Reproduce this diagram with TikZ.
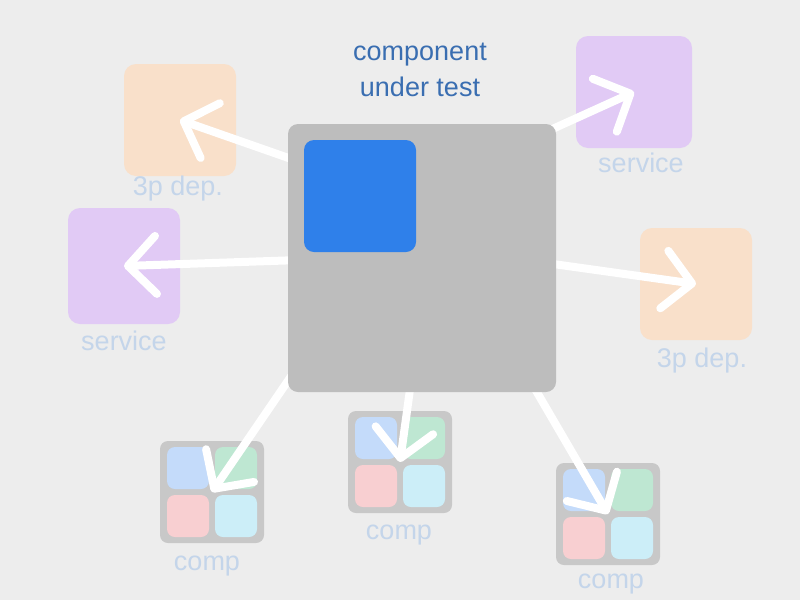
\documentclass[tikz,border=0pt]{standalone}
\usepackage{fontspec}
\setmainfont{Liberation Sans}
\usepackage{tikz}
\usetikzlibrary{positioning, arrows.meta}
\definecolor{bgc}{HTML}{EDEDED}
\definecolor{cutc}{HTML}{BDBDBD}
\definecolor{unitc}{HTML}{2F80EA}
\definecolor{depc}{HTML}{F9E0CA}
\definecolor{svcc}{HTML}{E1CAF5}
\definecolor{compc}{HTML}{C8C8C8}
\definecolor{qblue}{HTML}{C4DBFA}
\definecolor{qgreen}{HTML}{BEE7D2}
\definecolor{qred}{HTML}{F8CFD1}
\definecolor{qcyan}{HTML}{CCEEF8}
\definecolor{lblc}{HTML}{C4D5EA}
\definecolor{ttlc}{HTML}{3A6EB1}

\begin{document}
\begin{tikzpicture}[x=1pt, y=-1pt,
    box/.style={rectangle, rounded corners=12pt, minimum width=112pt,
        minimum height=112pt, inner sep=0pt},
    dep/.style={box, fill=depc},
    svc/.style={box, fill=svcc},
    comp/.style={rectangle, rounded corners=8pt, fill=compc,
        minimum width=104pt, minimum height=102pt, inner sep=0pt},
    sq/.style={rectangle, rounded corners=8pt, minimum size=42pt, inner sep=0pt},
    lbl/.style={text=lblc, font=\fontsize{27}{32}\selectfont},
    ttl/.style={text=ttlc, align=center, font=\fontsize{27}{36}\selectfont},
    ar/.style={-{Straight Barb[length=28pt, width=58pt, line cap=round, line join=round]},
        draw=white, line width=8pt, line cap=round}]
\fill[bgc] (0,0) rectangle (800,600);
\useasboundingbox (0,0) rectangle (800,600);
% dependencies
\node[dep] (dep1) at (180,120) {};
\node[svc, minimum height=116pt] (svc1) at (124,266) {};
\node[svc, minimum width=116pt] (svc2) at (634,92) {};
\node[dep] (dep2) at (696,284) {};
\foreach \n/\x/\y in {c1/212/492, c2/400/462, c3/608/514} {
    \node[comp] (\n) at (\x,\y) {};
    \node[sq, fill=qblue] (\n-b) at ([shift={(-24,-24)}]\n.center) {};
    \node[sq, fill=qgreen] (\n-g) at ([shift={(24,-24)}]\n.center) {};
    \node[sq, fill=qred] (\n-r) at ([shift={(-24,24)}]\n.center) {};
    \node[sq, fill=qcyan] (\n-c) at ([shift={(24,24)}]\n.center) {};
}
% labels
\node[lbl, below=19pt of dep1, anchor=base, xshift=-2pt] (dep1l) {3p dep.};
\node[lbl, below=26pt of svc1, anchor=base] (svc1l) {service};
\node[lbl, below=24pt of svc2, anchor=base, xshift=7pt] (svc2l) {service};
\node[lbl, below=27pt of dep2, anchor=base, xshift=6pt] (dep2l) {3p dep.};
\node[lbl, below=27pt of c1, anchor=base, xshift=-5pt] (c1l) {comp};
\node[lbl, below=26pt of c2, anchor=base, xshift=-1pt] (c2l) {comp};
\node[lbl, below=23pt of c3, anchor=base, xshift=3pt] (c3l) {comp};
% arrows (start inside the box, which covers them)
\coordinate (s1) at (300,162);
\coordinate (s2) at (300,260);
\coordinate (s3) at (548,131);
\coordinate (s4) at (546,263);
\coordinate (s5) at (296,369);
\coordinate (s6) at (411,382);
\coordinate (s7) at (531,382);
\draw[ar] (s1) -- (dep1.center);
\draw[ar] (s2) -- (svc1.center);
\draw[ar] (s3) -- (svc2.center);
\draw[ar] (s4) -- (dep2.center);
\draw[ar] (s5) -- (c1.center);
\draw[ar] (s6) -- (c2.center);
\draw[ar] (s7) -- (c3.center);
% component under test
\node[rectangle, rounded corners=10pt, fill=cutc, minimum size=268pt, inner sep=0pt] (cut) at (422,258) {};
\node[rectangle, rounded corners=10pt, fill=unitc, minimum size=112pt, inner sep=0pt] (unit) at (360,196) {};
\node[ttl] (ttl) at (420,70) {component\\under test};
\end{tikzpicture}
\end{document}
